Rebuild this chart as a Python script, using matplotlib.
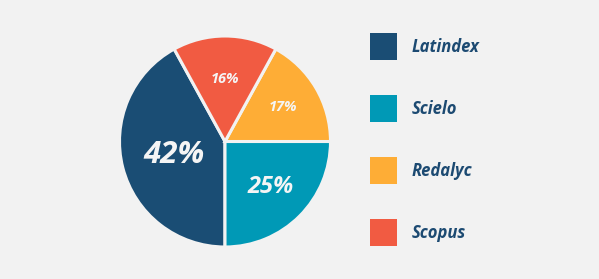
import matplotlib
matplotlib.use("Agg")
import matplotlib.pyplot as plt
from matplotlib.patches import Rectangle
import numpy as np

categories = ["Latindex", "Scielo", "Redalyc", "Scopus"]
values = [42, 25, 17, 16]
colors = ["#1a4d74", "#0099b6", "#fead36", "#f15b42"]

BG = "#f2f2f2"
W, H = 599, 279
fig = plt.figure(figsize=(W / 100, H / 100), dpi=100, facecolor=BG)

cx, cy, r = 225, 279 - 141.5, 105.5
pad = 1.1
ax = fig.add_axes([(cx - r * pad) / W, (cy - r * pad) / H, 2 * r * pad / W, 2 * r * pad / H])
ax.set_facecolor(BG)

wedges, _ = ax.pie(values, colors=colors, startangle=118.8, counterclock=True,
                   radius=1.0, center=(0, 0), frame=True,
                   wedgeprops=dict(edgecolor=BG, linewidth=2.2))
ax.set_xlim(-pad, pad)
ax.set_ylim(-pad, pad)
ax.axis("off")

dists = [0.50, 0.61, 0.64, 0.59]
sizes = [22.5, 17, 10.5, 10.5]
for w, v, d, s in zip(wedges, values, dists, sizes):
    ang = np.deg2rad((w.theta1 + w.theta2) / 2)
    ax.text(d * np.cos(ang), d * np.sin(ang), f"{v}%", ha="center", va="center",
            color="#f5f5f5", fontsize=s, fontweight="bold", fontstyle="italic",
            family="Open Sans")

# legend
sq_x, sq_w = 370, 27
tops = [33, 95, 157, 219]
for cat, col, t in zip(categories, colors, tops):
    fig.patches.append(Rectangle((sq_x / W, (H - t - sq_w) / H), sq_w / W, sq_w / H,
                                 transform=fig.transFigure, facecolor=col, edgecolor="none"))
    fig.text(412 / W, (H - t - sq_w / 2) / H, cat, ha="left", va="center",
             color="#1c4a72", fontsize=12, fontweight="bold", fontstyle="italic",
             family="Open Sans")

fig.savefig("out.png", dpi=100, facecolor=BG)
